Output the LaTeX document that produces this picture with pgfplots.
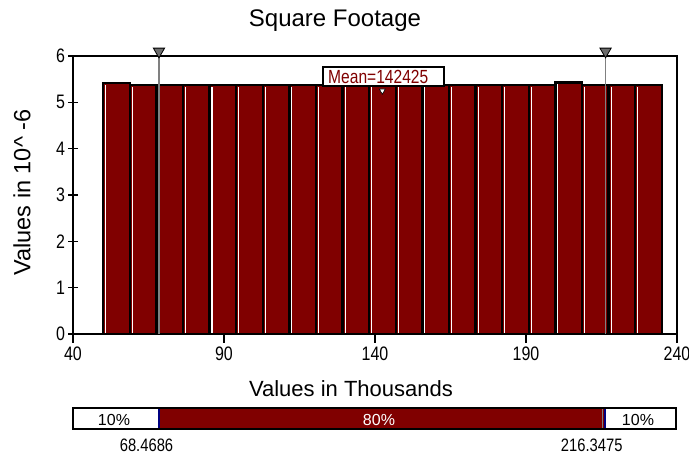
\documentclass[border=0pt]{standalone}
\usepackage{pgfplots}
\pgfplotsset{compat=1.18}
\usepackage{pgfplotstable}
\usepackage{fontspec}
\setmainfont{Liberation Sans}
\newfontfamily\cond[FakeStretch=0.82]{Liberation Sans}
\definecolor{barred}{HTML}{800000}
\definecolor{pgray}{HTML}{808080}
\definecolor{navy}{HTML}{000080}

\pgfplotstableread{
x y
50.0000 5.42
58.8095 5.37
67.6190 5.37
76.4286 5.37
85.2381 5.37
94.0476 5.37
102.8571 5.37
111.6667 5.37
120.4762 5.37
129.2857 5.37
138.0952 5.37
146.9048 5.37
155.7143 5.37
164.5238 5.37
173.3333 5.37
182.1429 5.37
190.9524 5.37
199.7619 5.43
208.5714 5.37
217.3810 5.37
226.1905 5.37
235.0000 5.37
}\bins

\begin{document}
\begin{tikzpicture}
\useasboundingbox (0pt,0pt) rectangle (689pt,-457pt);

\begin{axis}[
  at={(73pt,-334pt)}, anchor=south west,
  scale only axis, width=604pt, height=278pt,
  xmin=40, xmax=240, ymin=0, ymax=6,
  xtick={40,90,140,190,240}, ytick={0,1,2,3,4,5,6},
  xtick pos=bottom, ytick pos=left,
  xtick align=outside, ytick align=center,
  major tick length=9pt,
  axis line style={line width=1.6pt},
  every tick/.style={black, line width=1.3pt},
  tick label style={font=\cond\fontsize{19.5}{21}\selectfont},
  /pgf/number format/assume math mode=true,
  clip=false,
]
\addplot[ybar interval, fill=barred, draw=black, line width=2.4pt] table {\bins};
\addplot[ycomb, white, line width=1.1pt, mark=none, skip coords between index={21}{22}]
  table[x expr=\thisrow{x}+0.8, y expr=\thisrow{y}-0.045] {\bins};
\addplot[black, line width=1.7pt, mark=none] coordinates {(40,0) (40,6) (240,6) (240,0) (40,0)};
\addplot[pgray, line width=1.6pt] coordinates {(68.4686,0) (68.4686,6.05)};
\addplot[pgray, line width=1.6pt] coordinates {(216.3475,0) (216.3475,6.05)};
\addplot[only marks, mark=triangle*, mark size=6.5pt,
  mark options={rotate=180, fill=gray!85!black, draw=black, line width=0.8pt}]
  coordinates {(68.4686,6.1) (216.3475,6.1)};
\addplot[only marks, mark=triangle*, mark size=3.5pt,
  mark options={rotate=180, fill=white, draw=black, line width=0.6pt}]
  coordinates {(142.425,5.25)};
\end{axis}

\node[draw=black, line width=1.5pt, fill=white, minimum width=121pt, minimum height=19pt, inner sep=0pt] at (383.5pt,-76.5pt) {};
\node[anchor=base west, inner sep=0pt, text=barred, font=\cond\fontsize{19}{21}\selectfont] at (328pt,-84pt) {Mean=142425};

\begin{axis}[
  at={(73pt,-429pt)}, anchor=south west,
  scale only axis, width=603pt, height=21pt,
  xmin=40, xmax=240, ymin=0, ymax=1,
  xtick=\empty, ytick=\empty,
  axis line style={line width=1.6pt},
  clip=false,
]
\addplot[ybar interval, fill=barred, draw=none] coordinates {(68.4686,1) (216.3475,1)};
\addplot[navy, line width=1.4pt] coordinates {(68.4686,0) (68.4686,1)};
\addplot[pgray, line width=1pt] coordinates {(215.7,0) (215.7,1)};
\addplot[navy, line width=1.4pt] coordinates {(216.5,0) (216.5,1)};
\addplot[black, line width=1.6pt, mark=none] coordinates {(40,0) (40,1) (240,1) (240,0) (40,0)};
\end{axis}

\node[anchor=base, font=\fontsize{24}{28}\selectfont] at (335pt,-26.5pt) {Square Footage};
\node[anchor=base, font=\fontsize{22}{26}\selectfont] at (351pt,-396.5pt) {Values in Thousands};
\node[anchor=base, rotate=90, font=\fontsize{23.5}{26}\selectfont] at (30.5pt,-192.5pt) {Values in 10\textasciicircum\ -6};

\node[anchor=base, inner sep=0pt, font=\fontsize{16}{18}\selectfont] at (114pt,-425.5pt) {10\%};
\node[anchor=base, inner sep=0pt, text=white, font=\fontsize{16}{18}\selectfont] at (379pt,-425.5pt) {80\%};
\node[anchor=base, inner sep=0pt, font=\fontsize{16}{18}\selectfont] at (638pt,-425.5pt) {10\%};
\node[anchor=base, inner sep=0pt, font=\cond\fontsize{18}{20}\selectfont] at (146.5pt,-451pt) {68.4686};
\node[anchor=base, inner sep=0pt, font=\cond\fontsize{18}{20}\selectfont] at (591.7pt,-451pt) {216.3475};
\end{tikzpicture}
\end{document}
